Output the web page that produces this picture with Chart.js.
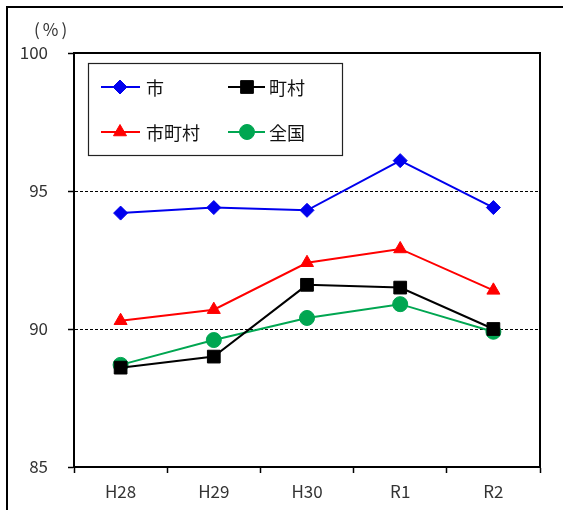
<!DOCTYPE html>
<html><head><meta charset="utf-8">
<script src="https://cdn.jsdelivr.net/npm/chart.js@4.4.1/dist/chart.umd.min.js"></script>
<style>html,body{margin:0;padding:0;background:#fff;overflow:hidden}canvas{display:block}</style>
</head><body><canvas id="c" width="563" height="510"></canvas>
<script>
const categories = ['H28', 'H29', 'H30', 'R1', 'R2'];
const seriesNames = ['市', '町村', '市町村', '全国'];
const shi = [94.2, 94.4, 94.3, 96.1, 94.4];
const chouson = [88.6, 89.0, 91.6, 91.5, 90.0];
const shichouson = [90.3, 90.7, 92.4, 92.9, 91.4];
const zenkoku = [88.7, 89.6, 90.4, 90.9, 89.9];
const yTicks = [85, 90, 95, 100];
const unitLabel = '(%)';

const FONT = '"Noto Sans CJK JP", "DejaVu Sans", sans-serif';
const styles = [
  {color: '#0000ee', pointStyle: 'rectRot', radius: 7},
  {color: '#000000', pointStyle: 'rect', radius: 9},
  {color: '#ff0000', pointStyle: 'triangle', radius: 7.5},
  {color: '#00a651', pointStyle: 'circle', radius: 7.5}
];
const seriesValues = [shi, chouson, shichouson, zenkoku];

const datasets = seriesNames.map((name, i) => ({
  label: name,
  data: seriesValues[i],
  borderColor: styles[i].color,
  backgroundColor: styles[i].color,
  borderWidth: 2,
  pointStyle: styles[i].pointStyle,
  pointRadius: styles[i].radius,
  pointBorderWidth: 1,
  pointBackgroundColor: styles[i].color,
  pointBorderColor: styles[i].color,
  tension: 0
}));

function drawMarker(ctx, st, x, y) {
  if (Chart.helpers && Chart.helpers.drawPoint) {
    ctx.fillStyle = st.color; ctx.strokeStyle = st.color; ctx.lineWidth = 1;
    Chart.helpers.drawPoint(ctx, {pointStyle: st.pointStyle, radius: st.radius, rotation: 0, borderWidth: 1}, x, y);
  }
}

const decorPlugin = {
  id: 'decor',
  beforeDraw(chart) {
    const ctx = chart.ctx;
    ctx.save();
    ctx.fillStyle = '#fff';
    ctx.fillRect(0, 0, chart.width, chart.height);
    ctx.restore();
  },
  afterDraw(chart) {
    const {ctx, chartArea: a} = chart;
    ctx.save();
    ctx.strokeStyle = '#000';
    ctx.lineWidth = 2;
    ctx.strokeRect(a.left, a.top, a.right - a.left, a.bottom - a.top);
    // outer frame
    ctx.beginPath();
    ctx.moveTo(7, chart.height); ctx.lineTo(7, 7); ctx.lineTo(chart.width, 7);
    ctx.stroke();
    // unit label
    ctx.fillStyle = '#333';
    ctx.font = '17px ' + FONT;
    ctx.textBaseline = 'middle';
    ctx.textAlign = 'left';
    if ('letterSpacing' in ctx) ctx.letterSpacing = '3px';
    ctx.fillText(unitLabel, 34, 30);
    if ('letterSpacing' in ctx) ctx.letterSpacing = '0px';
    // legend box
    ctx.lineWidth = 1.2;
    ctx.strokeStyle = '#222';
    ctx.strokeRect(88.5, 63.5, 254, 92);
    const cols = [{l1: 101, l2: 140, m: 120, t: 146}, {l1: 228, l2: 265, m: 247, t: 269}];
    const rows = [87, 132];
    chart.data.datasets.forEach((ds, i) => {
      const c = cols[i % 2], y = rows[Math.floor(i / 2)];
      const st = styles[i];
      ctx.strokeStyle = st.color; ctx.lineWidth = 2;
      ctx.beginPath(); ctx.moveTo(c.l1, y); ctx.lineTo(c.l2, y); ctx.stroke();
      drawMarker(ctx, st, c.m, y);
      ctx.fillStyle = '#111';
      ctx.font = '18px ' + FONT;
      ctx.textAlign = 'left';
      ctx.textBaseline = 'middle';
      ctx.fillText(ds.label, c.t, y + 1);
    });
    ctx.restore();
  }
};

new Chart(document.getElementById('c'), {
  type: 'line',
  data: {labels: categories, datasets},
  plugins: [decorPlugin],
  options: {
    responsive: false,
    animation: false,
    devicePixelRatio: 1,
    layout: {padding: {left: 0, top: 53, right: 23, bottom: 0}},
    plugins: {legend: {display: false}, tooltip: {enabled: false}},
    scales: {
      x: {
        offset: true,
        grid: {offset: true, drawOnChartArea: false, drawTicks: true, tickLength: 6, tickColor: '#000', tickWidth: 1.5},
        border: {display: true, color: '#000', width: 2},
        ticks: {color: '#333', font: {family: FONT, size: 17}, padding: 8, maxRotation: 0},
        afterFit(s) { s.height = 43; }
      },
      y: {
        min: 85, max: 100,
        afterBuildTicks(s) { s.ticks = yTicks.map(v => ({value: v})); },
        grid: {
          color: ctx => (ctx.tick && (ctx.tick.value === 90 || ctx.tick.value === 95)) ? '#000' : 'rgba(0,0,0,0)',
          lineWidth: 1,
          tickLength: 6, tickColor: '#000', tickWidth: 1.5, tickBorderDash: []
        },
        border: {display: true, color: '#000', width: 2, dash: [3, 2]},
        ticks: {color: '#333', font: {family: FONT, size: 17}, padding: 20},
        afterFit(s) { s.width = 74; }
      }
    }
  }
});
</script>
</body></html>
